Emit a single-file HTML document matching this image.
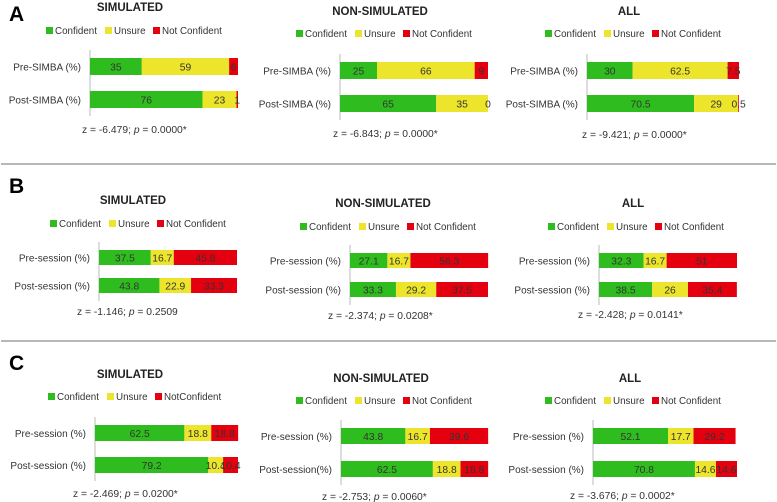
<!DOCTYPE html>
<html><head><meta charset="utf-8">
<style>
html,body{margin:0;padding:0;background:#fff;}
svg{display:block;font-family:"Liberation Sans",Arial,sans-serif;}
</style></head>
<body>
<svg id="fig" width="777" height="502" viewBox="0 0 777 502" xmlns="http://www.w3.org/2000/svg">
<line x1="1" y1="164" x2="776" y2="164" stroke="#a0a0a0" stroke-width="1.5"/>
<line x1="1" y1="341" x2="776" y2="341" stroke="#a0a0a0" stroke-width="1.5"/>
<text x="9" y="21" font-size="21" font-weight="bold">A</text>
<text x="9" y="193" font-size="21" font-weight="bold">B</text>
<text x="9" y="370" font-size="21" font-weight="bold">C</text>
</svg>
<script>
// ---- data ----
const catsA = ['Pre-SIMBA (%)', 'Post-SIMBA (%)'];
const catsB = ['Pre-session (%)', 'Post-session (%)'];
const catsCnon = ['Pre-session (%)', 'Post-session(%)'];
const seriesNames = ['Confident', 'Unsure', 'Not Confident'];
const seriesNamesCsim = ['Confident', 'Unsure', 'NotConfident'];
const titles = ['SIMULATED', 'NON-SIMULATED', 'ALL'];

const aSimConfident = [35, 76];     const aSimUnsure = [59, 23];     const aSimNot = [6, 1];
const aNonConfident = [25, 65];     const aNonUnsure = [66, 35];     const aNonNot = [9, 0];
const aAllConfident = [30, 70.5];   const aAllUnsure = [62.5, 29];   const aAllNot = [7.5, 0.5];

const bSimConfident = [37.5, 43.8]; const bSimUnsure = [16.7, 22.9]; const bSimNot = [45.8, 33.3];
const bNonConfident = [27.1, 33.3]; const bNonUnsure = [16.7, 29.2]; const bNonNot = [56.3, 37.5];
const bAllConfident = [32.3, 38.5]; const bAllUnsure = [16.7, 26];   const bAllNot = [51, 35.4];

const cSimConfident = [62.5, 79.2]; const cSimUnsure = [18.8, 10.4]; const cSimNot = [18.8, 10.4];
const cNonConfident = [43.8, 62.5]; const cNonUnsure = [16.7, 18.8]; const cNonNot = [39.6, 18.8];
const cAllConfident = [52.1, 70.8]; const cAllUnsure = [17.7, 14.6]; const cAllNot = [29.2, 14.6];

const statsA = ['z = -6.479; ', 'z = -6.843; ', 'z = -9.421; '];
const pA = ['0.0000*', '0.0000*', '0.0000*'];
const statsB = ['z = -1.146; ', 'z = -2.374; ', 'z = -2.428; '];
const pB = ['0.2509', '0.0208*', '0.0141*'];
const statsC = ['z = -2.469; ', 'z = -2.753; ', 'z = -3.676; '];
const pC = ['0.0200*', '0.0060*', '0.0002*'];

// ---- layout ----
const colors = ['#2fbc1f', '#ece52c', '#e5000f'];
const svg = document.getElementById('fig');
const NS = 'http://www.w3.org/2000/svg';
function mk(tag, attrs, parent) {
  const e = document.createElementNS(NS, tag);
  for (const k in attrs) e.setAttribute(k, attrs[k]);
  (parent || svg).appendChild(e);
  return e;
}

function drawChart(cfg) {
  const g = mk('g', {});
  
  
  const x = v => cfg.ax + v / 100 * cfg.w;
  const t = mk('text', {x: cfg.tx, y: cfg.ty, 'font-size': 11.5, 'font-weight': 'bold', 'text-anchor': 'middle', fill: '#222'}, g);
  t.textContent = cfg.title;
  
  
  const lo = [0, 59, 107];
  cfg.series.forEach((s, i) => {
    const lg = mk('g', {}, g);
    
    
    mk('rect', {x: cfg.lx + lo[i], y: cfg.ly - 7, width: 7, height: 7, fill: colors[i]}, lg);
    const lt = mk('text', {x: cfg.lx + lo[i] + 9, y: cfg.ly, 'font-size': 9.8, fill: '#333'}, lg);
    lt.textContent = s;
  });
  const axl = mk('line', {x1: cfg.ax, x2: cfg.ax, y1: cfg.ys[0] - 8, y2: cfg.ys[1] + cfg.h + 8, stroke: '#bbb', 'stroke-width': 1}, g);
  
  
  cfg.cats.forEach((c, r) => {
    const y = cfg.ys[r];
    const cl = mk('text', {x: cfg.ax - 9, y: y + cfg.h / 2 + 4, 'font-size': 10, 'text-anchor': 'end', fill: '#333'}, g);
    cl.textContent = c;
    
    
    let acc = 0;
    cfg.vals.forEach((arr, i) => {
      const v = arr[r];
      const rc = mk('rect', {x: x(acc), y: y, width: Math.max(0, x(acc + v) - x(acc)), height: cfg.h, fill: colors[i]}, g);
      
      
      const vt = mk('text', {x: (x(acc) + x(acc + v)) / 2, y: y + cfg.h / 2 + 4, 'font-size': 10.3, 'text-anchor': 'middle', fill: '#333'}, g);
      vt.textContent = String(v);
      
      
      acc += v;
    });
  });
  const zt = mk('text', {x: cfg.zx, y: cfg.zy, 'font-size': 10.3, fill: '#333'}, g);
  
  
  const s1 = mk('tspan', {}, zt); s1.textContent = cfg.stat;
  const s2 = mk('tspan', {'font-style': 'italic'}, zt); s2.textContent = 'p';
  const s3 = mk('tspan', {}, zt); s3.textContent = ' = ' + cfg.p;
}

// Row A
drawChart({name:'chart-a-simulated', title:titles[0], cats:catsA, series:seriesNames, vals:[aSimConfident,aSimUnsure,aSimNot], ax:90, w:148, ys:[58,91], h:17, tx:130, ty:11, lx:46, ly:34, zx:82, zy:133, stat:statsA[0], p:pA[0]});
drawChart({name:'chart-a-non-simulated', title:titles[1], cats:catsA, series:seriesNames, vals:[aNonConfident,aNonUnsure,aNonNot], ax:340, w:148, ys:[62,95], h:17, tx:380, ty:15, lx:296, ly:37, zx:333, zy:137, stat:statsA[1], p:pA[1]});
drawChart({name:'chart-a-all', title:titles[2], cats:catsA, series:seriesNames, vals:[aAllConfident,aAllUnsure,aAllNot], ax:587, w:152, ys:[62,95], h:17, tx:629, ty:15, lx:545, ly:37, zx:582, zy:138, stat:statsA[2], p:pA[2]});
// Row B
drawChart({name:'chart-b-simulated', title:titles[0], cats:catsB, series:seriesNames, vals:[bSimConfident,bSimUnsure,bSimNot], ax:99, w:138, ys:[250,278], h:15, tx:133, ty:204, lx:50, ly:227, zx:77, zy:315, stat:statsB[0], p:pB[0]});
drawChart({name:'chart-b-non-simulated', title:titles[1], cats:catsB, series:seriesNames, vals:[bNonConfident,bNonUnsure,bNonNot], ax:350, w:138, ys:[253,282], h:15, tx:383, ty:207, lx:300, ly:230, zx:328, zy:319, stat:statsB[1], p:pB[1]});
drawChart({name:'chart-b-all', title:titles[2], cats:catsB, series:seriesNames, vals:[bAllConfident,bAllUnsure,bAllNot], ax:599, w:138, ys:[253,282], h:15, tx:633, ty:207, lx:548, ly:230, zx:578, zy:318, stat:statsB[2], p:pB[2]});
// Row C
drawChart({name:'chart-c-simulated', title:titles[0], cats:catsB, series:seriesNamesCsim, vals:[cSimConfident,cSimUnsure,cSimNot], ax:95, w:143, ys:[425,457], h:16, tx:130, ty:378, lx:48, ly:400, zx:73, zy:497, stat:statsC[0], p:pC[0]});
drawChart({name:'chart-c-non-simulated', title:titles[1], cats:catsCnon, series:seriesNames, vals:[cNonConfident,cNonUnsure,cNonNot], ax:341, w:147, ys:[428,461], h:16, tx:381, ty:382, lx:296, ly:404, zx:322, zy:500, stat:statsC[1], p:pC[1]});
drawChart({name:'chart-c-all', title:titles[2], cats:catsB, series:seriesNames, vals:[cAllConfident,cAllUnsure,cAllNot], ax:593, w:144, ys:[428,461], h:16, tx:630, ty:382, lx:545, ly:404, zx:570, zy:499, stat:statsC[2], p:pC[2]});
</script>
</body></html>
